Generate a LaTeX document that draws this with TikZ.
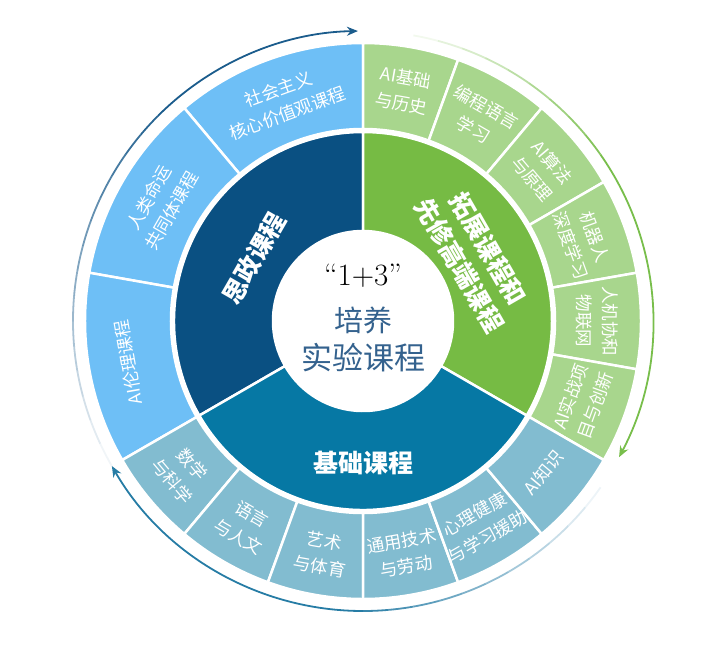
\documentclass[tikz,border=0pt]{standalone}
\usepackage{fontspec}
\newfontfamily\cjk{Noto Sans CJK SC}
\usetikzlibrary{arrows.meta}
\definecolor{szdark}{RGB}{10,80,130}
\definecolor{tzgreen}{RGB}{118,187,68}
\definecolor{jcteal}{RGB}{6,120,164}
\definecolor{szlight}{RGB}{110,191,246}
\definecolor{tzlight}{RGB}{168,214,141}
\definecolor{jclight}{RGB}{130,188,208}
\definecolor{ctrblue}{RGB}{52,98,142}
\definecolor{arcdark}{RGB}{27,92,140}
\definecolor{arcgreen}{RGB}{120,190,75}
\definecolor{arcteal}{RGB}{38,124,165}
% annular sector: inner r, outer r, start angle, end angle, colour
\newcommand{\ringsector}[5]{%
  \filldraw[fill=#5,draw=white,line width=2.5pt]
    (#3:#1) arc[start angle=#3,end angle=#4,radius=#1]
    -- (#4:#2) arc[start angle=#4,end angle=#3,radius=#2] -- cycle;}

\begin{document}
\begin{tikzpicture}[line width=0.8pt,>=Stealth,
  outtxt/.style={text=white,font=\cjk\fontsize{17.5}{26}\selectfont,align=center,inner sep=1pt},
  intxt/.style={text=white,font=\cjk\bfseries\fontsize{25}{33}\selectfont,align=center,inner sep=1pt}]
\useasboundingbox (-363pt,-325pt) rectangle (345pt,321pt);
% ---------- inner ring ----------
\ringsector{90pt}{189pt}{90}{210}{szdark}
\ringsector{90pt}{189pt}{-30}{90}{tzgreen}
\ringsector{90pt}{189pt}{210}{330}{jcteal}
\fill[white] (0,0) circle (90pt);
% ---------- outer ring ----------
\ringsector{192pt}{278pt}{90}{130}{szlight}
\ringsector{192pt}{278pt}{130}{170}{szlight}
\ringsector{192pt}{278pt}{170}{210}{szlight}
\ringsector{192pt}{278pt}{70}{90}{tzlight}
\ringsector{192pt}{278pt}{50}{70}{tzlight}
\ringsector{192pt}{278pt}{30}{50}{tzlight}
\ringsector{192pt}{278pt}{10}{30}{tzlight}
\ringsector{192pt}{278pt}{-10}{10}{tzlight}
\ringsector{192pt}{278pt}{-30}{-10}{tzlight}
\ringsector{192pt}{278pt}{210}{230}{jclight}
\ringsector{192pt}{278pt}{230}{250}{jclight}
\ringsector{192pt}{278pt}{250}{270}{jclight}
\ringsector{192pt}{278pt}{270}{290}{jclight}
\ringsector{192pt}{278pt}{290}{310}{jclight}
\ringsector{192pt}{278pt}{310}{330}{jclight}
% ---------- arrows round the ring ----------
\foreach \i in {0,...,15}
  \draw[arcdark,line width=1.8pt,opacity=\i/16]
    ({215-\i*5}:290pt) arc[start angle=215-\i*5,end angle=210-\i*5,radius=290pt];
\draw[arcdark,line width=1.8pt,-{Stealth[length=11pt,width=9pt]}]
  (135:290pt) arc[start angle=135,end angle=91,radius=290pt];
\foreach \i in {0,...,9}
  \draw[arcgreen,line width=1.8pt,opacity=\i/10]
    ({85-\i*5}:290pt) arc[start angle=85-\i*5,end angle=80-\i*5,radius=290pt];
\draw[arcgreen,line width=1.8pt,-{Stealth[length=11pt,width=9pt]}]
  (35:290pt) arc[start angle=35,end angle=-28,radius=290pt];
\foreach \i in {0,...,11}
  \draw[arcteal,line width=1.8pt,opacity=\i/12]
    ({-30-\i*5}:290pt) arc[start angle=-30-\i*5,end angle=-35-\i*5,radius=290pt];
\draw[arcteal,line width=1.8pt,-{Stealth[length=11pt,width=9pt]}]
  (-90:290pt) arc[start angle=-90,end angle=-150,radius=290pt];
% ---------- centre ----------
\node[font=\fontsize{31}{34}\selectfont] (n13) at (0,45pt) {“1+3”};
\node[font=\cjk\fontsize{29}{34}\selectfont,text=ctrblue] (py) at (0,1pt) {培养};
\node[font=\cjk\fontsize{31}{36}\selectfont,text=ctrblue] (sy) at (0,-37pt) {实验课程};
% ---------- inner labels ----------
\node[intxt,rotate=60] (sz) at (150:126pt) {思政课程};
\node[intxt,rotate=-60] (tz) at (30:128pt) {拓展课程和\\先修高端课程};
\node[intxt] (jc) at (270:142pt) {基础课程};
% ---------- outer labels ----------
\node[outtxt,rotate=20] (sz1) at (110:234pt) {社会主义\\核心价值观课程};
\node[outtxt,rotate=60] (sz2) at (150:234pt) {人类命运\\共同体课程};
\node[outtxt,rotate=100] (sz3) at (190:238pt) {AI伦理课程};
\node[outtxt,rotate=-10] (tz1) at (80:234pt) {AI基础\\与历史};
\node[outtxt,rotate=-30] (tz2) at (60:234pt) {编程语言\\学习};
\node[outtxt,rotate=-50] (tz3) at (40:234pt) {AI算法\\与原理};
\node[outtxt,rotate=-70] (tz4) at (20:234pt) {机器人\\深度学习};
\node[outtxt,rotate=-90] (tz5) at (0:234pt) {人机协和\\物联网};
\node[outtxt,rotate=70] (tz6) at (-20:234pt) {AI实战项\\目与创新};
\node[outtxt,rotate=-50] (jc1) at (220:236pt) {数学\\与科学};
\node[outtxt,rotate=-30] (jc2) at (240:236pt) {语言\\与人文};
\node[outtxt,rotate=-10] (jc3) at (260:236pt) {艺术\\与体育};
\node[outtxt,rotate=10] (jc4) at (280:236pt) {通用技术\\与劳动};
\node[outtxt,rotate=30] (jc5) at (300:236pt) {心理健康\\与学习援助};
\node[outtxt,rotate=50] (jc6) at (320:236pt) {AI知识};
\end{tikzpicture}
\end{document}
